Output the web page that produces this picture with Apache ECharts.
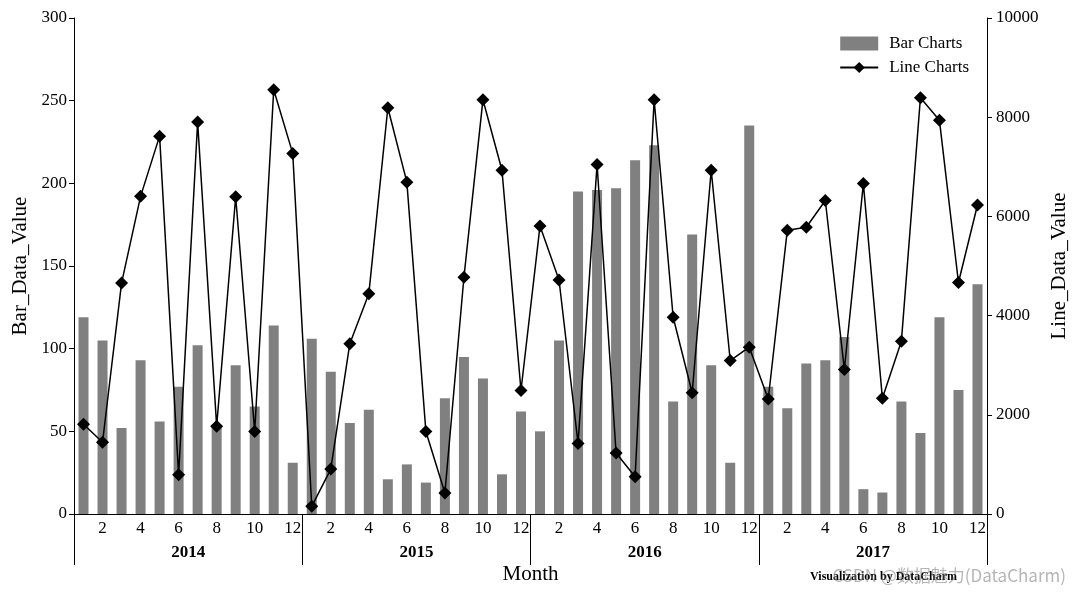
<!DOCTYPE html>
<html>
<head>
<meta charset="utf-8">
<script src="https://cdn.jsdelivr.net/npm/echarts@6/dist/echarts.min.js"></script>
<style>html,body{margin:0;padding:0;background:#fff}#c{width:1080px;height:600px}</style>
</head>
<body>
<div id="c"></div>
<script>
var years = ['2014', '2015', '2016', '2017'];
var months = ['1','2','3','4','5','6','7','8','9','10','11','12'];
var barValues = [
  119, 105, 52, 93, 56, 77, 102, 54, 90, 65, 114, 31,
  106, 86, 55, 63, 21, 30, 19, 70, 95, 82, 24, 62,
  50, 105, 195, 196, 197, 214, 223, 68, 169, 90, 31, 235,
  77, 64, 91, 93, 107, 15, 13, 68, 49, 119, 75, 139
];
var lineValues = [
  1810, 1446, 4656, 6404, 7618, 789, 7904, 1771, 6396, 1663, 8554, 7270,
  155, 905, 3434, 4439, 8190, 6690, 1663, 425, 4772, 8353, 6930, 2490,
  5808, 4718, 1423, 7046, 1230, 750, 8353, 3967, 2444, 6930, 3094, 3364,
  2318, 5719, 5781, 6321, 2913, 6661, 2334, 3485, 8393, 7937, 4668, 6229
];
var categories = [];
years.forEach(function (y) { months.forEach(function (m) { categories.push(y + '-' + m); }); });

var serif = 'Liberation Serif';
var chart = echarts.init(document.getElementById('c'));
chart.setOption({
  backgroundColor: '#fff',
  animation: false,
  textStyle: { fontFamily: serif, color: '#000' },
  grid: { left: 74, right: 93, top: 18, bottom: 86 },
  legend: {
    right: 106, top: 30, orient: 'vertical', itemGap: 7,
    itemWidth: 38, itemHeight: 14,
    textStyle: { fontFamily: serif, fontSize: 17, color: '#000', padding: [0, 0, 0, 6] },
    data: [
      { name: 'Bar Charts', icon: 'rect' },
      { name: 'Line Charts' }
    ]
  },
  xAxis: [
    {
      type: 'category', data: categories, position: 'bottom',
      axisLine: { show: true, lineStyle: { color: '#000', width: 1 } },
      axisTick: { show: false },
      axisLabel: {
        interval: 0, margin: 6, fontFamily: serif, fontSize: 17, color: '#000',
        formatter: function (v, i) { return i % 2 === 1 ? v.split('-')[1] : ''; }
      },
      name: 'Month', nameLocation: 'middle', nameGap: 50,
      nameTextStyle: { fontFamily: serif, fontSize: 21, color: '#000' }
    },
    {
      type: 'category', data: years, position: 'bottom', offset: 0,
      axisLine: { show: false },
      axisTick: { show: true, length: 51, inside: false, lineStyle: { color: '#000', width: 1 } },
      axisLabel: { margin: 30, fontFamily: serif, fontSize: 17, fontWeight: 'bold', color: '#000' }
    }
  ],
  yAxis: [
    {
      type: 'value', min: 0, max: 300, interval: 50, position: 'left',
      axisLine: { show: true, lineStyle: { color: '#000', width: 1 } },
      axisTick: { show: true, length: 5, lineStyle: { color: '#000' } },
      splitLine: { show: false },
      axisLabel: { fontFamily: serif, fontSize: 17, color: '#000', margin: 7 },
      name: 'Bar_Data_Value', nameLocation: 'middle', nameGap: 43, nameRotate: 90,
      nameTextStyle: { fontFamily: serif, fontSize: 21, color: '#000' }
    },
    {
      type: 'value', min: 0, max: 10000, interval: 2000, position: 'right',
      axisLine: { show: true, lineStyle: { color: '#000', width: 1 } },
      axisTick: { show: true, length: 5, lineStyle: { color: '#000' } },
      splitLine: { show: false },
      axisLabel: { fontFamily: serif, fontSize: 17, color: '#000', margin: 9, formatter: function (v) { return String(v); } },
      name: 'Line_Data_Value', nameLocation: 'middle', nameGap: 62, nameRotate: 90,
      nameTextStyle: { fontFamily: serif, fontSize: 21, color: '#000' }
    }
  ],
  series: [
    {
      name: 'Bar Charts', type: 'bar', xAxisIndex: 0, yAxisIndex: 0,
      data: barValues, barWidth: 10,
      itemStyle: { color: '#808080' }
    },
    {
      name: 'Line Charts', type: 'line', xAxisIndex: 0, yAxisIndex: 1,
      data: lineValues, symbol: 'diamond', symbolSize: 13,
      lineStyle: { color: '#000', width: 1.5 },
      itemStyle: { color: '#000' }
    }
  ],
  graphic: [
    {
      type: 'text', right: 123, top: 571,
      style: { text: 'Visualization by DataCharm', font: 'bold 12px "Liberation Serif"', fill: '#000' }
    },
    {
      type: 'text', right: 14, top: 567,
      style: { text: 'CSDN @数据魅力(DataCharm)', font: '17px "Noto Sans CJK SC"', fill: 'rgba(120,120,120,0.55)' }
    }
  ]
});
</script>
</body>
</html>
